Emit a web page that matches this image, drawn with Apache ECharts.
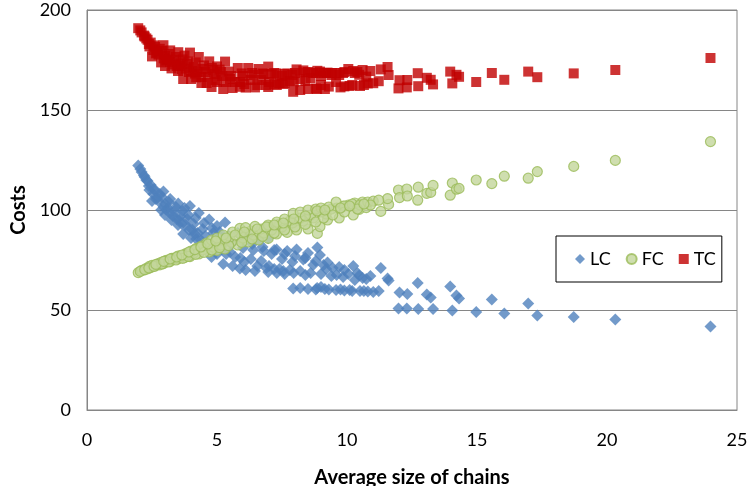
<!DOCTYPE html>
<html lang="en">
<head>
    <meta charset="UTF-8" />
    <title>Costs vs average size of chains</title>
    <script src="https://cdn.jsdelivr.net/npm/echarts@6/dist/echarts.min.js"></script>
    <style>
        html, body { margin: 0; padding: 0; background: #fff; }
        #main { width: 748px; height: 486px; }
    </style>
</head>
<body>
<div id="main"></div>
<script type="text/javascript">
    // average size of chains (shared x for the three cost series)
    var chainSize = [
        1.97, 2.19, 2.33, 2.45, 2.62, 2.80, 2.94, 3.20, 3.51, 3.75, 3.96, 4.30, 4.70, 5.00, 5.31, 5.80,
        6.20, 6.60, 6.97, 7.29, 7.70, 8.06, 8.50, 8.86, 8.96, 9.25, 9.70, 10.24, 10.47, 10.74, 11.30, 11.60,
        2.10, 2.28, 2.55, 2.70, 3.00, 3.10, 3.35, 3.60, 3.85, 4.10, 4.45, 4.85, 5.15, 5.55, 6.00, 6.40,
        6.80, 7.10, 7.50, 7.90, 8.32, 8.70, 9.20, 9.60, 10.05, 10.60, 11.56,
        2.40, 2.75, 3.05, 3.30, 3.55, 3.80, 4.05, 4.25, 4.55, 4.90, 5.20, 5.50, 5.90, 6.30, 6.70, 7.00,
        7.40, 7.80, 8.20, 8.60, 9.00, 9.40, 9.85, 10.30,
        2.50, 2.85, 3.00, 3.25, 3.50, 3.70, 4.00, 4.20, 4.40, 4.60, 4.79, 5.00, 5.24, 5.60, 5.88, 6.10,
        6.46, 6.97, 7.30, 7.60, 7.93, 8.20, 8.50, 8.80, 9.00, 9.30, 9.58, 9.90, 10.20, 10.50, 10.80, 11.01, 11.22,
        2.05, 2.22, 2.38, 2.58, 2.88, 3.15, 3.42, 3.68, 3.90, 4.18, 4.50, 4.80, 5.10, 5.45, 5.95, 6.35,
        6.75, 7.20, 7.60, 8.00, 8.40, 8.80, 9.10, 9.45, 9.90, 10.40, 10.90,
        2.65, 2.95, 3.20, 3.45, 3.65, 3.92, 4.15, 4.38, 4.65, 4.95, 5.35, 5.70, 6.05, 6.55, 6.90, 7.20,
        7.55, 7.95, 8.40, 8.85, 9.15, 9.75, 10.10, 10.65,
        11.98, 12.02, 12.30, 12.32, 12.72, 12.74, 13.07, 13.22, 13.31, 13.97, 14.05, 14.21, 14.31, 14.97,
        15.57, 16.05, 16.97, 17.32, 18.72, 20.32, 23.98
    ];

    var lcCost = [
        122.2, 117.2, 114.5, 112.5, 109.5, 108.0, 109.2, 105.5, 103.3, 101.0, 102.0, 98.5, 95.3, 92.0, 93.7, 88.5,
        87.0, 85.5, 85.9, 80.3, 79.5, 80.3, 78.5, 81.3, 77.5, 73.7, 71.5, 72.0, 67.3, 65.5, 71.0, 64.7,
        119.0, 115.0, 108.0, 106.0, 103.0, 101.0, 99.5, 97.0, 95.5, 93.0, 90.5, 88.5, 86.5, 83.0, 81.0, 80.0,
        79.5, 78.0, 75.5, 74.0, 75.3, 72.5, 70.5, 67.5, 68.0, 66.0, 65.8,
        110.0, 104.5, 100.0, 97.0, 95.0, 92.5, 90.0, 88.5, 87.0, 84.5, 82.0, 79.0, 76.0, 75.5, 74.5, 72.0,
        70.5, 70.0, 69.5, 68.5, 68.0, 67.0, 66.5, 65.0,
        104.5, 100.0, 97.5, 95.0, 92.5, 88.0, 86.0, 85.5, 81.5, 80.0, 76.5, 78.0, 73.0, 72.0, 70.8, 70.0,
        69.5, 69.0, 68.5, 68.0, 60.8, 61.0, 60.5, 60.3, 61.5, 60.2, 60.0, 59.8, 59.5, 59.5, 59.3, 59.0, 59.5,
        120.5, 116.5, 112.0, 110.5, 106.5, 104.0, 101.5, 99.5, 97.5, 96.0, 93.5, 91.0, 89.0, 87.0, 84.5, 83.0,
        81.5, 80.0, 78.0, 77.0, 76.0, 74.5, 72.5, 71.0, 70.0, 68.5, 67.0,
        105.5, 101.5, 98.5, 95.5, 93.0, 90.0, 88.0, 85.0, 83.5, 80.5, 78.0, 76.5, 74.0, 72.0, 71.0, 70.5,
        69.5, 68.5, 67.5, 61.0, 60.5, 60.3, 60.0, 59.5,
        50.8, 58.7, 50.8, 58.0, 63.5, 50.5, 57.8, 56.3, 50.5, 61.8, 49.8, 57.2, 55.8, 49.0,
        55.3, 48.2, 53.3, 47.2, 46.5, 45.2, 41.8
    ];

    var fcCost = [
        68.7, 70.0, 70.6, 71.2, 72.0, 72.6, 73.2, 74.3, 75.6, 76.2, 76.7, 78.0, 79.0, 79.8, 80.5, 82.5,
        84.0, 85.0, 85.8, 88.0, 88.8, 90.0, 90.5, 88.3, 91.7, 95.0, 96.0, 97.5, 100.3, 101.2, 99.3, 102.8,
        69.8, 70.8, 72.0, 72.8, 74.0, 74.2, 75.5, 76.3, 77.5, 78.5, 80.0, 81.5, 82.5, 84.0, 86.0, 87.5,
        88.5, 90.0, 91.5, 93.5, 94.5, 96.0, 98.0, 101.0, 102.5, 104.0, 105.7,
        71.8, 73.2, 74.8, 75.8, 77.0, 78.2, 79.5, 80.5, 82.0, 83.5, 85.0, 86.5, 88.0, 89.5, 90.5, 92.0,
        93.0, 94.5, 96.0, 97.5, 99.0, 100.5, 102.0, 103.5,
        72.3, 73.8, 74.5, 75.8, 77.0, 77.5, 79.5, 80.8, 82.0, 83.5, 85.0, 86.0, 87.5, 89.0, 90.8, 91.2,
        91.8, 92.5, 94.0, 95.5, 98.3, 99.0, 100.0, 100.5, 101.0, 101.5, 104.0, 102.0, 103.0, 102.5, 104.0, 104.4, 104.9,
        69.3, 70.2, 71.0, 71.8, 73.0, 74.0, 75.0, 75.8, 76.8, 77.8, 78.8, 80.0, 81.2, 82.2, 83.8, 85.5,
        86.8, 88.5, 90.0, 91.5, 92.8, 94.0, 96.0, 97.5, 99.0, 100.5, 102.5,
        72.8, 74.3, 75.5, 76.5, 77.5, 79.0, 80.2, 81.5, 83.0, 84.5, 86.0, 87.5, 89.0, 90.5, 91.5, 92.5,
        93.5, 95.5, 97.0, 99.5, 100.0, 101.0, 102.0, 103.0,
        110.0, 106.2, 110.5, 107.0, 104.9, 111.4, 108.3, 108.8, 112.3, 107.4, 113.5, 110.4, 110.8, 115.0,
        113.2, 116.9, 115.9, 119.2, 121.8, 124.8, 134.2
    ];

    var tcCost = [
        190.9, 187.2, 185.1, 183.7, 181.5, 180.6, 182.4, 179.8, 178.9, 177.2, 178.7, 176.5, 174.3, 171.8, 174.2, 171.0,
        171.0, 170.5, 171.7, 168.3, 168.3, 170.3, 169.0, 169.6, 169.2, 168.7, 167.5, 169.5, 167.6, 166.7, 170.3, 167.5,
        188.8, 185.8, 180.0, 178.8, 177.0, 175.2, 175.0, 173.3, 173.0, 171.5, 170.5, 170.0, 169.0, 167.0, 167.0, 167.5,
        168.0, 168.0, 167.0, 167.5, 169.8, 168.5, 168.5, 168.5, 170.5, 170.0, 171.5,
        181.8, 177.7, 174.8, 172.8, 172.0, 170.7, 169.5, 169.0, 169.0, 168.0, 167.0, 165.5, 164.0, 165.0, 165.0, 164.0,
        163.5, 164.5, 165.5, 166.0, 167.0, 167.5, 168.5, 168.5,
        176.8, 173.8, 172.0, 170.8, 169.5, 165.5, 165.5, 166.3, 163.5, 163.5, 161.5, 164.0, 160.5, 161.0, 161.6, 161.2,
        161.3, 161.5, 162.5, 163.5, 159.1, 160.0, 160.5, 160.8, 162.5, 161.7, 164.0, 161.8, 162.5, 162.0, 163.3, 163.4, 164.4,
        189.8, 186.7, 183.0, 182.3, 179.5, 178.0, 176.5, 175.3, 174.3, 173.8, 172.3, 171.0, 170.2, 169.2, 168.3, 168.5,
        168.3, 168.5, 168.0, 168.5, 168.8, 168.5, 168.5, 168.5, 169.0, 169.0, 169.5,
        178.3, 175.8, 174.0, 172.0, 170.5, 169.0, 168.2, 166.5, 166.5, 165.0, 164.0, 164.0, 163.0, 162.5, 162.5, 163.0,
        163.0, 164.0, 164.5, 160.5, 160.5, 161.3, 162.0, 162.5,
        160.8, 164.9, 161.3, 165.0, 168.4, 161.9, 166.1, 165.1, 162.8, 169.2, 163.3, 167.6, 166.6, 164.0,
        168.5, 165.1, 169.2, 166.4, 168.3, 170.0, 176.0
    ];

    var xTicks = { min: 0, max: 25, interval: 5 };
    var yTicks = { min: 0, max: 200, interval: 50 };

    function pairs(ys) {
        return chainSize.map(function (x, i) { return [x, ys[i]]; });
    }

    var font = 'Lato, "Open Sans", sans-serif';
    var chart = echarts.init(document.getElementById('main'));
    chart.setOption({
        animation: false,
        textStyle: { fontFamily: font },
        grid: {
            left: 87, right: 11, top: 10, bottom: 76,
            containLabel: false, outerBoundsMode: 'none',
            show: true, borderColor: '#868686', borderWidth: 1
        },
        legend: {
            left: 556, top: 236,
            orient: 'horizontal',
            backgroundColor: '#fff',
            borderColor: '#000', borderWidth: 1,
            padding: [14, 6, 14, 19],
            itemGap: 15,
            itemWidth: 10, itemHeight: 10,
            textStyle: { fontSize: 18, color: '#000', fontFamily: font },
            data: ['LC', 'FC', 'TC']
        },
        xAxis: {
            type: 'value',
            min: xTicks.min, max: xTicks.max, interval: xTicks.interval,
            name: 'Average size of chains',
            nameLocation: 'middle', nameGap: 58,
            nameTextStyle: { fontSize: 20, fontWeight: 'bold', color: '#000' },
            axisLine: { lineStyle: { color: '#868686' } },
            axisTick: { show: false },
            axisLabel: { fontSize: 18, color: '#000', margin: 21 },
            splitLine: { show: false }
        },
        yAxis: {
            type: 'value',
            min: yTicks.min, max: yTicks.max, interval: yTicks.interval,
            name: 'Costs',
            nameLocation: 'middle', nameGap: 58,
            nameTextStyle: { fontSize: 20, fontWeight: 'bold', color: '#000' },
            axisLine: { show: true, lineStyle: { color: '#868686' } },
            axisTick: { show: false },
            axisLabel: { fontSize: 18, color: '#000', margin: 16 },
            splitLine: { lineStyle: { color: '#868686' } }
        },
        series: [
            {
                name: 'LC', type: 'scatter', symbol: 'diamond', symbolSize: 12,
                itemStyle: { color: '#4f81bd' },
                data: pairs(lcCost)
            },
            {
                name: 'FC', type: 'scatter', symbol: 'circle', symbolSize: 10,
                itemStyle: { color: '#c3d69b', borderColor: '#9bbb59', borderWidth: 1.2 },
                data: pairs(fcCost)
            },
            {
                name: 'TC', type: 'scatter', symbol: 'rect', symbolSize: 10,
                itemStyle: { color: '#c00000' },
                data: pairs(tcCost)
            }
        ]
    });
</script>
</body>
</html>
